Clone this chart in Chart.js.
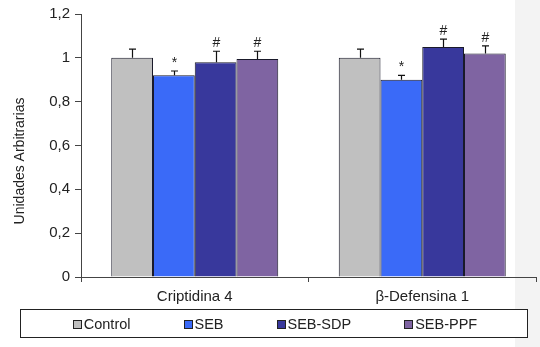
<!DOCTYPE html>
<html>
<head>
<meta charset="utf-8">
<script src="https://cdn.jsdelivr.net/npm/chart.js@4/dist/chart.umd.min.js"></script>
<style>
  html, body { margin: 0; padding: 0; background: #fff; }
  #wrap { width: 540px; height: 347px; position: relative; }
</style>
</head>
<body>
<div id="wrap"><canvas id="chart" width="540" height="347"></canvas></div>
<script>
// categories and series
const categories = ['Criptidina 4', 'β-Defensina 1'];
const seriesNames = ['Control', 'SEB', 'SEB-SDP', 'SEB-PPF'];
const seriesColors = ['#c0c0c0', '#3a6af8', '#38389c', '#7f64a2'];

const controlValues = [1.0, 1.0];
const sebValues = [0.92, 0.90];
const sdpValues = [0.98, 1.05];
const ppfValues = [0.995, 1.02];

// upper error (standard error)
const controlErr = [0.04, 0.04];
const sebErr = [0.02, 0.02];
const sdpErr = [0.05, 0.035];
const ppfErr = [0.035, 0.035];

// significance marks above the bars
const controlMarks = ['', ''];
const sebMarks = ['*', '*'];
const sdpMarks = ['#', '#'];
const ppfMarks = ['#', '#'];

const yTicks = [0, 0.2, 0.4, 0.6, 0.8, 1.0, 1.2];
const yTitle = 'Unidades Arbitrarias';

const FONT = 'Liberation Sans, Arial, sans-serif';

const allValues = [controlValues, sebValues, sdpValues, ppfValues];
const allErr = [controlErr, sebErr, sdpErr, ppfErr];
const allMarks = [controlMarks, sebMarks, sdpMarks, ppfMarks];

const datasets = seriesNames.map((name, i) => ({
    label: name,
    data: allValues[i],
    err: allErr[i],
    marks: allMarks[i],
    backgroundColor: seriesColors[i],
    borderColor: '#1a1a2a',
    borderWidth: 1,
    borderSkipped: 'bottom',
    categoryPercentage: 0.734,
    barPercentage: 1.0
}));

//background with the pale strip on the right, plus the rotated y title
const backgroundPlugin = {
    id: 'bg',
    beforeDraw(chart) {
        const ctx = chart.ctx;
        ctx.save();
        ctx.fillStyle = '#ffffff';
        ctx.fillRect(0, 0, chart.width, chart.height);
        ctx.fillStyle = '#f3f3f3';
        ctx.fillRect(515, 0, chart.width - 515, chart.height);

        ctx.translate(20, 161);
        ctx.rotate(-Math.PI / 2);
        ctx.fillStyle = '#222';
        ctx.font = '14px ' + FONT;
        ctx.textAlign = 'center';
        ctx.textBaseline = 'middle';
        ctx.fillText(yTitle, 0, 0);
        ctx.restore();
    }
};

//error bars + * / # marks
const errorBarPlugin = {
    id: 'errorBars',
    afterDatasetsDraw(chart) {
        const ctx = chart.ctx;
        const y = chart.scales.y;
        ctx.save();
        chart.data.datasets.forEach((ds, di) => {
            const meta = chart.getDatasetMeta(di);
            meta.data.forEach((bar, i) => {
                const top = y.getPixelForValue(ds.data[i]);
                const errTop = y.getPixelForValue(ds.data[i] + ds.err[i]);
                const x = Math.round(bar.x) + 0.5;
                ctx.strokeStyle = '#111';
                ctx.lineWidth = 1.2;
                ctx.beginPath();
                ctx.moveTo(x, top);
                ctx.lineTo(x, errTop);
                ctx.moveTo(x - 3.5, errTop);
                ctx.lineTo(x + 3.5, errTop);
                ctx.stroke();
                if (ds.marks[i]) {
                    ctx.fillStyle = '#222';
                    ctx.font = '14px ' + FONT;
                    ctx.textAlign = 'center';
                    ctx.textBaseline = 'alphabetic';
                    ctx.fillText(ds.marks[i], x, errTop - 4);
                }
            });
        });
        ctx.restore();
    }
};

//framed legend under the axis
const boxLegendPlugin = {
    id: 'boxLegend',
    afterDraw(chart) {
        const ctx = chart.ctx;
        const box = { x: 20.5, y: 309.5, w: 507, h: 28 };
        ctx.save();
        ctx.fillStyle = '#fff';
        ctx.fillRect(box.x, box.y, box.w, box.h);
        ctx.strokeStyle = '#222';
        ctx.lineWidth = 1;
        ctx.strokeRect(box.x, box.y, box.w, box.h);

        ctx.font = '14.5px ' + FONT;
        const sq = 8, gap = 3, spacing = 53;
        const widths = seriesNames.map(n => sq + gap + ctx.measureText(n).width);
        const total = widths.reduce((a, b) => a + b, 0) + spacing * (widths.length - 1);
        let x = box.x + box.w / 2 - total / 2 + 1;
        const cy = box.y + box.h / 2;
        seriesNames.forEach((name, i) => {
            ctx.fillStyle = seriesColors[i];
            ctx.fillRect(Math.round(x) + 0.5, Math.round(cy - 4) + 0.5, sq, sq);
            ctx.strokeStyle = '#222';
            ctx.strokeRect(Math.round(x) + 0.5, Math.round(cy - 4) + 0.5, sq, sq);
            ctx.fillStyle = '#222';
            ctx.textAlign = 'left';
            ctx.textBaseline = 'middle';
            ctx.fillText(name, x + sq + gap, cy + 1);
            x += widths[i] + spacing;
        });
        ctx.restore();
    }
};

function tickLabel(v) {
    return String(Number(v.toFixed(1))).replace('.', ',');
}

new Chart(document.getElementById('chart'), {
    type: 'bar',
    data: { labels: categories, datasets: datasets },
    options: {
        responsive: false,
        animation: false,
        layout: { padding: { left: 0, right: 4, top: 13, bottom: 40 } },
        plugins: {
            legend: { display: false },
            tooltip: { enabled: false }
        },
        scales: {
            x: {
                grid: {
                    offset: true,
                    drawOnChartArea: false,
                    drawTicks: true,
                    tickLength: 5,
                    color: '#444'
                },
                border: { display: true, color: '#444', width: 1 },
                ticks: {
                    color: '#222',
                    padding: 6,
                    font: { family: FONT, size: 15 }
                },
                afterFit(scale) { scale.height = 30; }
            },
            y: {
                min: 0,
                max: 1.2,
                afterBuildTicks(scale) {
                    scale.ticks = yTicks.map(v => ({ value: v }));
                },
                grid: {
                    drawOnChartArea: false,
                    drawTicks: true,
                    tickLength: 6,
                    color: '#444'
                },
                border: { display: true, color: '#444', width: 1 },
                ticks: {
                    color: '#222',
                    padding: 5,
                    font: { family: FONT, size: 15 },
                    callback: (v) => tickLabel(v)
                },
                afterFit(scale) { scale.width = 81; }
            }
        }
    },
    plugins: [backgroundPlugin, errorBarPlugin, boxLegendPlugin]
});
</script>
</body>
</html>
